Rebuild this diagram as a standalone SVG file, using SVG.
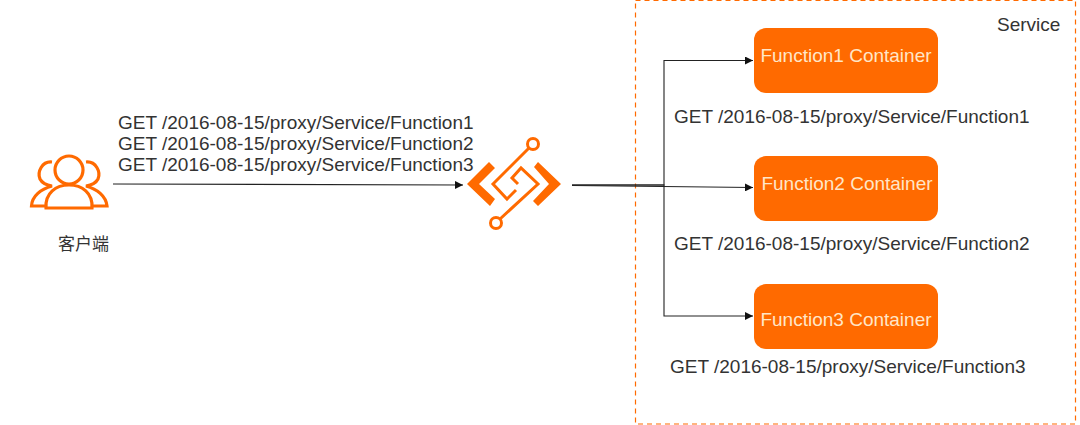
<svg xmlns="http://www.w3.org/2000/svg" width="1080" height="425" viewBox="0 0 1080 425">
<style>
text{font-family:"Liberation Sans",Arial,"Noto Sans CJK SC",sans-serif;font-size:19px;fill:#333}
.fn{fill:#ff6a00;}
.fnt{fill:#ffe6c8;font-size:19px;text-anchor:middle}
.ic{fill:none;stroke:#ff6a00;stroke-width:3.200}
.gw{fill:none;stroke:#ff6a00;stroke-width:3}
.c{fill:none;stroke:#222;stroke-width:1.100}
</style>
<defs><marker id="a" markerWidth="9" markerHeight="8" refX="8" refY="4" orient="auto" markerUnits="userSpaceOnUse"><path d="M0 0L8 4L0 8Z" fill="#111"/></marker></defs>
<rect x="635.5" y="0.5" width="440" height="423.5" fill="none" stroke="#ff6a00" stroke-width="1.2" stroke-dasharray="5 4"/>
<text x="997" y="31">Service</text>
<g id="connectors">
<path class="c" d="M113 184L463 185" marker-end="url(#a)"/>
<path class="c" d="M572 185H664V60.500H753" marker-end="url(#a)"/>
<path class="c" d="M572 185.500L753 187.500" marker-end="url(#a)"/>
<path class="c" d="M572 185H664V316H753" marker-end="url(#a)"/>
</g>
<g id="client">
<g class="ic">
<circle cx="69" cy="170" r="14"/>
<path d="M46 208C45 193 56 185 69 185C82 185 93 193 92 208Z"/>
<path d="M52 162C42 161 37 172 40 179C42 183 46 185 52 186C41 189 32 196 31.500 206H45"/>
<path d="M86 162C96 161 101 172 98 179C96 183 92 185 86 186C97 189 106 196 107 206H93"/>
</g>
<text x="58" y="250" style="font-size:17px">客户端</text>
</g>
<g id="gateway">
<path d="M489 162L495 168L479 184L495 199L490 206L467 184Z" fill="#ff6a00"/>
<path d="M538 162L561 184L538 206L533 201L549 184L534 167Z" fill="#ff6a00"/>
<g class="gw">
<circle cx="533" cy="144" r="5.500"/>
<circle cx="496" cy="223" r="5.500"/>
<path d="M529 148L493 184L507 199L516 190"/>
<path d="M500 219L538 184L521 168L512 178L518 184"/>
</g>
</g>
<text x="118" y="129">GET /2016-08-15/proxy/Service/Function1</text>
<text x="118" y="150">GET /2016-08-15/proxy/Service/Function2</text>
<text x="118" y="171">GET /2016-08-15/proxy/Service/Function3</text>
<g id="fn1"><rect class="fn" x="754" y="28" width="184" height="65" rx="12"/><text class="fnt" x="846" y="62">Function1 Container</text></g>
<text x="674" y="123">GET /2016-08-15/proxy/Service/Function1</text>
<g id="fn2"><rect class="fn" x="754" y="156" width="184" height="65" rx="12"/><text class="fnt" x="847" y="190">Function2 Container</text></g>
<text x="674" y="250">GET /2016-08-15/proxy/Service/Function2</text>
<g id="fn3"><rect class="fn" x="754" y="284" width="184" height="65" rx="12"/><text class="fnt" x="846" y="326">Function3 Container</text></g>
<text x="670" y="373">GET /2016-08-15/proxy/Service/Function3</text>
</svg>
